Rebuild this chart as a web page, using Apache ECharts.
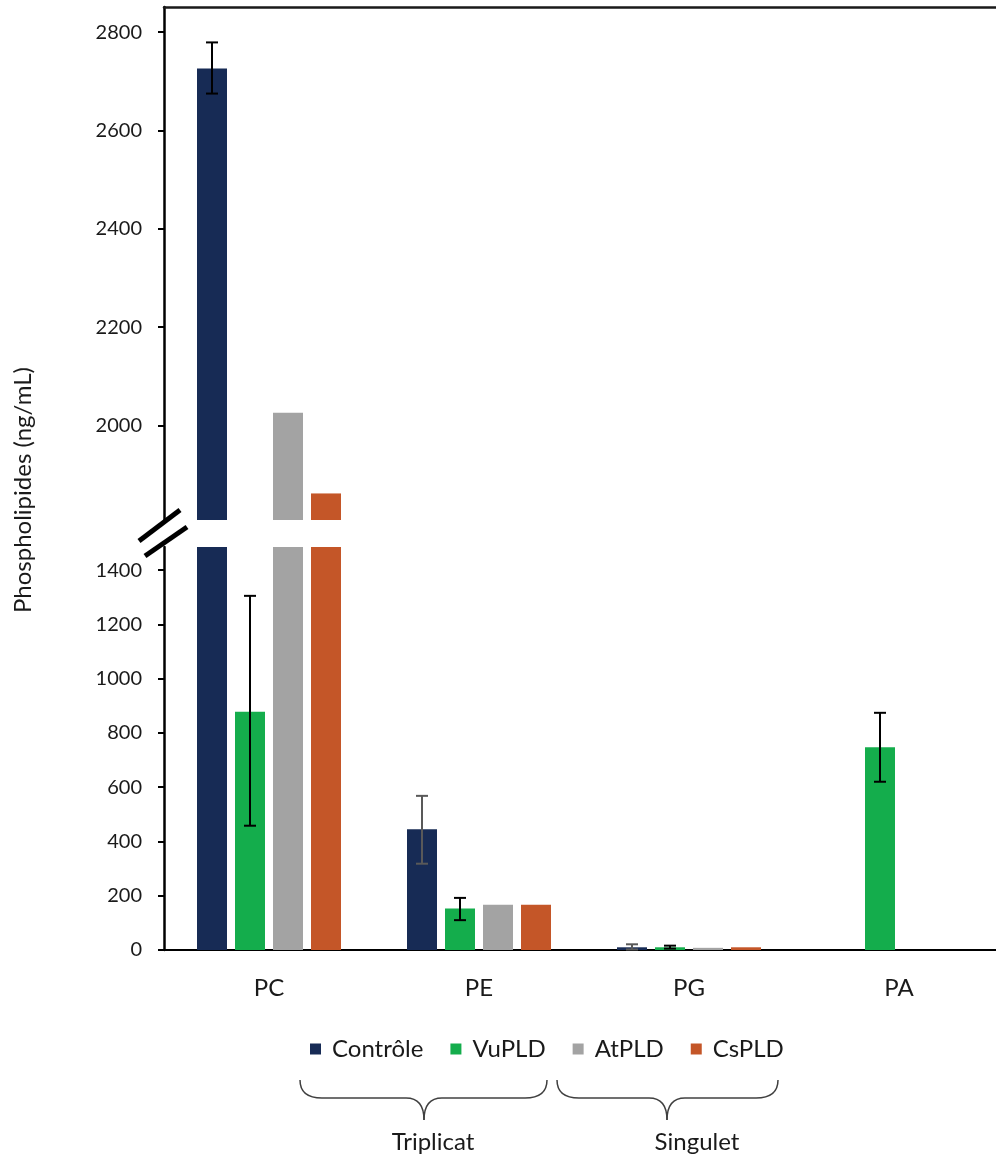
<!DOCTYPE html>
<html>
<head>
<meta charset="utf-8">
<script src="https://cdn.jsdelivr.net/npm/echarts@6/dist/echarts.min.js"></script>
<style>
html, body { margin: 0; padding: 0; background: #fff; }
#chart { width: 996px; height: 1160px; }
</style>
</head>
<body>
<div id="chart"></div>
<script>
// données
var categories = ['PC', 'PE', 'PG', 'PA'];
var seriesNames = ['Contrôle', 'VuPLD', 'AtPLD', 'CsPLD'];
var controle = [2726, 445, 10, 0];
var vupld = [878, 153, 10, 747];
var atpld = [2026, 167, 8, 0];
var cspld = [1862, 167, 10, 0];
// barres d'erreur [bas, haut]
var controleErr = [[2675, 2779], [318, 568], [2, 21], null];
var vupldErr = [[458, 1305], [110, 192], [5, 16], [620, 874]];
// graduations des deux parties de l'axe coupé
var upperTicks = [2000, 2200, 2400, 2600, 2800];
var lowerTicks = [0, 200, 400, 600, 800, 1000, 1200, 1400];
var groupNames = ['Triplicat', 'Singulet'];

var upperRange = [1808, 2851];
var lowerRange = [0, 1485];
var colors = ['#172B55', '#14AD4C', '#A3A3A3', '#C45628'];
var controleErrColor = ['#000000', '#595959', '#595959', '#000000'];
var vupldErrColor = ['#000000', '#000000', '#000000', '#000000'];
var font = 'Lato, "Noto Sans", sans-serif';
var barW = 30;
var barGapPx = 8;
var step = barW + barGapPx;

var chart = echarts.init(document.getElementById('chart'));

var allValues = [controle, vupld, atpld, cspld];
var series = [];

allValues.forEach(function(vals, i) {
    // partie basse (0 - 1485)
    series.push({
        name: seriesNames[i],
        type: 'bar',
        xAxisIndex: 1,
        yAxisIndex: 1,
        barWidth: barW,
        barGap: (barGapPx / barW * 100) + '%',
        itemStyle: { color: colors[i] },
        data: vals
    });
    // partie haute (1808 - 2851)
    series.push({
        name: seriesNames[i],
        type: 'bar',
        xAxisIndex: 0,
        yAxisIndex: 0,
        barWidth: barW,
        barGap: (barGapPx / barW * 100) + '%',
        itemStyle: { color: colors[i] },
        data: vals.map(function(v) { return v > upperRange[0] ? v : '-'; })
    });
});

function errorSeries(errs, slot, errColors, upper) {
    var data = [];
    errs.forEach(function(e, k) {
        if (!e) return;
        var inUpper = e[0] >= upperRange[0];
        if (inUpper === upper) data.push([k, e[0], e[1]]);
    });
    return {
        type: 'custom',
        xAxisIndex: upper ? 0 : 1,
        yAxisIndex: upper ? 0 : 1,
        z: 5,
        silent: true,
        encode: { x: 0, y: [1, 2] },
        data: data,
        renderItem: function(params, api) {
            var c = api.value(0);
            var lo = api.coord([c, api.value(1)]);
            var hi = api.coord([c, api.value(2)]);
            var x = lo[0] + (slot - 1.5) * step;
            var style = { stroke: errColors[c], lineWidth: 2 };
            return {
                type: 'group',
                children: [
                    { type: 'line', shape: { x1: x, y1: lo[1], x2: x, y2: hi[1] }, style: style },
                    { type: 'line', shape: { x1: x - 6, y1: hi[1], x2: x + 6, y2: hi[1] }, style: style },
                    { type: 'line', shape: { x1: x - 6, y1: lo[1], x2: x + 6, y2: lo[1] }, style: style }
                ]
            };
        }
    };
}

series.push(errorSeries(controleErr, 0, controleErrColor, true));
series.push(errorSeries(controleErr, 0, controleErrColor, false));
series.push(errorSeries(vupldErr, 1, vupldErrColor, true));
series.push(errorSeries(vupldErr, 1, vupldErrColor, false));

// accolade faite de courbes et de segments
function brace(x0, xt, x1, y0, ym, yt) {
    var st = { stroke: '#404040', lineWidth: 1.5, fill: null };
    return [
        { type: 'bezierCurve', shape: { x1: x0, y1: y0, cpx1: x0, cpy1: ym, x2: x0 + 22, y2: ym }, style: st },
        { type: 'line', shape: { x1: x0 + 22, y1: ym, x2: xt - 18, y2: ym }, style: st },
        { type: 'bezierCurve', shape: { x1: xt - 18, y1: ym, cpx1: xt, cpy1: ym, x2: xt, y2: yt }, style: st },
        { type: 'bezierCurve', shape: { x1: xt, y1: yt, cpx1: xt, cpy1: ym, x2: xt + 18, y2: ym }, style: st },
        { type: 'line', shape: { x1: xt + 18, y1: ym, x2: x1 - 22, y2: ym }, style: st },
        { type: 'bezierCurve', shape: { x1: x1 - 22, y1: ym, cpx1: x1, cpy1: ym, x2: x1, y2: y0 }, style: st }
    ];
}

var graphics = [
    // coupure de l'axe
    { type: 'line', shape: { x1: 180, y1: 510, x2: 139, y2: 541 }, style: { stroke: '#000', lineWidth: 5 } },
    { type: 'line', shape: { x1: 187, y1: 527, x2: 145, y2: 556 }, style: { stroke: '#000', lineWidth: 5 } },
    {
        type: 'text', x: 23, y: 490, rotation: Math.PI / 2,
        style: { text: 'Phospholipides (ng/mL)', font: '24px ' + font, fill: '#1a1a1a', textAlign: 'center', textVerticalAlign: 'middle' }
    },
    {
        type: 'text', x: 433, y: 1142,
        style: { text: groupNames[0], font: '24px ' + font, fill: '#1a1a1a', textAlign: 'center', textVerticalAlign: 'middle' }
    },
    {
        type: 'text', x: 697, y: 1142,
        style: { text: groupNames[1], font: '24px ' + font, fill: '#1a1a1a', textAlign: 'center', textVerticalAlign: 'middle' }
    }
].concat(brace(300, 424, 547, 1080, 1098, 1120), brace(557, 667, 778, 1080, 1098, 1120));

function plainNumber(v) { return String(v); }

var option = {
    backgroundColor: '#ffffff',
    animation: false,
    textStyle: { fontFamily: font },
    grid: [
        { left: 164, top: 7, width: 840, height: 513, outerBoundsMode: 'none' },
        { left: 164, top: 547, width: 840, height: 403, outerBoundsMode: 'none' }
    ],
    xAxis: [
        {
            type: 'category',
            gridIndex: 0,
            position: 'top',
            data: categories,
            axisLine: { show: true, lineStyle: { color: '#1a1a1a', width: 2.5 } },
            axisTick: { show: false },
            axisLabel: { show: false }
        },
        {
            type: 'category',
            gridIndex: 1,
            data: categories,
            axisLine: { show: true, lineStyle: { color: '#000', width: 2 } },
            axisTick: { show: false },
            axisLabel: { fontSize: 24, color: '#1a1a1a', margin: 26, fontFamily: font }
        }
    ],
    yAxis: [
        {
            type: 'value',
            gridIndex: 0,
            min: upperRange[0],
            max: upperRange[1],
            splitLine: { show: false },
            axisLine: { show: true, lineStyle: { color: '#000', width: 2.5 } },
            axisTick: { show: true, length: 6, lineStyle: { width: 2, color: '#000' }, customValues: upperTicks },
            axisLabel: { fontSize: 20, color: '#1a1a1a', margin: 22, fontFamily: font, customValues: upperTicks, formatter: plainNumber }
        },
        {
            type: 'value',
            gridIndex: 1,
            min: lowerRange[0],
            max: lowerRange[1],
            splitLine: { show: false },
            axisLine: { show: true, lineStyle: { color: '#000', width: 2.5 } },
            axisTick: { show: true, length: 6, lineStyle: { width: 2, color: '#000' }, customValues: lowerTicks },
            axisLabel: { fontSize: 20, color: '#1a1a1a', margin: 22, fontFamily: font, customValues: lowerTicks, formatter: plainNumber }
        }
    ],
    legend: {
        data: seriesNames,
        left: 305,
        top: 1032,
        icon: 'rect',
        itemWidth: 11,
        itemHeight: 11,
        itemGap: 27,
        textStyle: { fontSize: 24, color: '#1a1a1a', fontFamily: font, padding: [0, 0, 0, 6] }
    },
    graphic: graphics,
    series: series
};

chart.setOption(option);
</script>
</body>
</html>
